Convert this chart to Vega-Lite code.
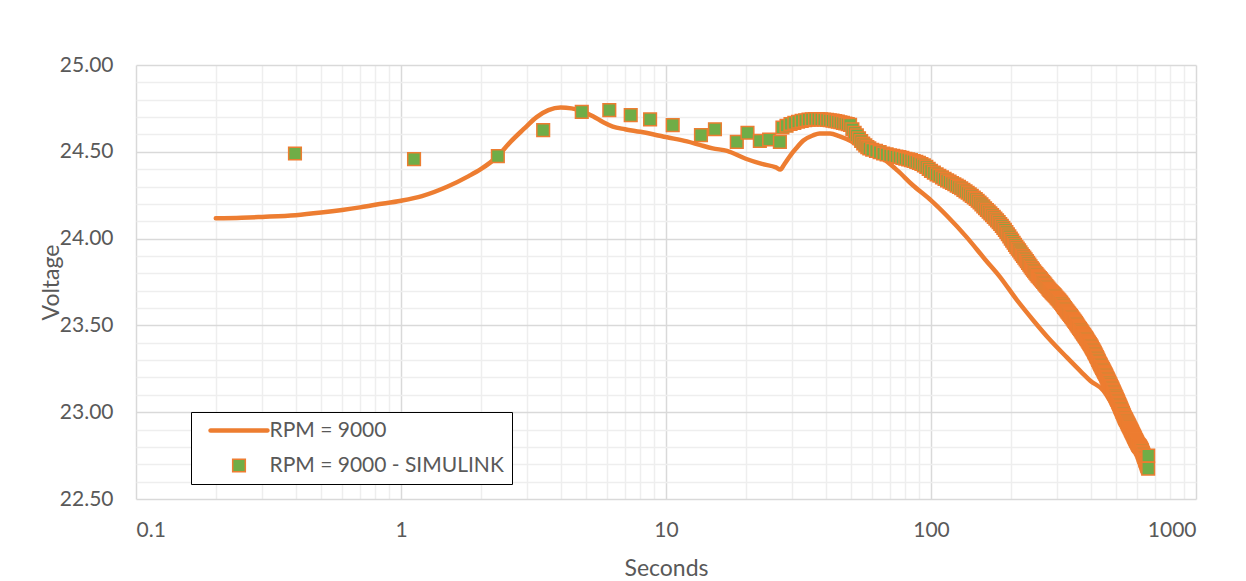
{
  "$schema": "https://vega.github.io/schema/vega-lite/v6.json",
  "width": 1060,
  "height": 434,
  "autosize": "none",
  "padding": {"left": 136, "top": 65, "right": 50, "bottom": 82},
  "background": "white",
  "config": {
    "font": "Lato",
    "view": {"stroke": null},
    "axis": {"domain": false, "ticks": false, "labelColor": "#595959", "titleColor": "#595959", "labelFontSize": 21, "titleFontSize": 23, "titleFontWeight": "normal", "labelFont": "Lato", "titleFont": "Lato"},
    "legend": {"labelFont": "Lato"}
  },
  "datasets": {
    "rpm": [
      {"t":0.2,"v":24.117},{"t":0.25,"v":24.12},{"t":0.3,"v":24.125},{"t":0.4,"v":24.135},{"t":0.5,"v":24.15},{"t":0.6,"v":24.165},{"t":0.7,"v":24.18},{"t":0.8,"v":24.195},{"t":1.0,"v":24.218},{"t":1.2,"v":24.245},{"t":1.5,"v":24.3},{"t":1.8,"v":24.36},{"t":2.0,"v":24.4},{"t":2.3,"v":24.47},{"t":2.6,"v":24.56},{"t":2.9,"v":24.63},{"t":3.25,"v":24.7},{"t":3.6,"v":24.74},{"t":4.0,"v":24.755},{"t":4.4,"v":24.75},{"t":4.8,"v":24.735},{"t":5.3,"v":24.705},{"t":5.8,"v":24.67},{"t":6.3,"v":24.645},{"t":7.0,"v":24.63},{"t":8.0,"v":24.615},{"t":9.0,"v":24.6},{"t":10.0,"v":24.585},{"t":12,"v":24.56},{"t":13.4,"v":24.54},{"t":15,"v":24.52},{"t":17,"v":24.505},{"t":20,"v":24.46},{"t":23,"v":24.43},{"t":26,"v":24.41},{"t":27,"v":24.398},{"t":28,"v":24.43},{"t":29.5,"v":24.48},{"t":31,"v":24.52},{"t":33,"v":24.565},{"t":35.9,"v":24.595},{"t":38,"v":24.606},{"t":41.6,"v":24.605},{"t":45,"v":24.59},{"t":50,"v":24.56},{"t":55,"v":24.52},{"t":60,"v":24.49},{"t":66,"v":24.46},{"t":75,"v":24.39},{"t":85,"v":24.31},{"t":100,"v":24.22},{"t":115,"v":24.13},{"t":136,"v":24.01},{"t":160,"v":23.88},{"t":182,"v":23.78},{"t":210,"v":23.65},{"t":243,"v":23.53},{"t":280,"v":23.42},{"t":325,"v":23.317},{"t":370,"v":23.23},{"t":400,"v":23.18},{"t":447,"v":23.125},{"t":480,"v":23.05},{"t":516,"v":22.95},{"t":550,"v":22.88},{"t":580,"v":22.81},{"t":615,"v":22.75},{"t":640,"v":22.7},{"t":660,"v":22.67}
    ],
    "sim": [
      {"t":0.398,"v":24.49},{"t":1.12,"v":24.458},{"t":2.32,"v":24.475},{"t":3.44,"v":24.625},{"t":4.81,"v":24.73},{"t":6.11,"v":24.74},{"t":7.36,"v":24.711},{"t":8.71,"v":24.687},{"t":10.6,"v":24.654},{"t":13.55,"v":24.596},{"t":15.3,"v":24.63},{"t":18.5,"v":24.557},{"t":20.3,"v":24.61},{"t":22.6,"v":24.563},{"t":24.5,"v":24.571},{"t":26.9,"v":24.557},
      {"t":27.5,"v":24.64},{"t":28.5,"v":24.65},{"t":29.5,"v":24.66},{"t":30.5,"v":24.667},{"t":31.5,"v":24.673},{"t":32.5,"v":24.678},{"t":33.5,"v":24.682},{"t":34.5,"v":24.685},{"t":35.5,"v":24.687},{"t":36.5,"v":24.688},{"t":37.5,"v":24.688},{"t":38.5,"v":24.687},{"t":39.5,"v":24.686},{"t":40.5,"v":24.684},{"t":41.5,"v":24.682},{"t":42.5,"v":24.68},{"t":43.5,"v":24.677},{"t":44.5,"v":24.674},{"t":45.5,"v":24.67},{"t":46.5,"v":24.667},{"t":47.5,"v":24.663},{"t":48.5,"v":24.659},{"t":49.5,"v":24.655},
      {"t":50.5,"v":24.63},{"t":51.5,"v":24.61},{"t":52.5,"v":24.595},{"t":53.5,"v":24.578},{"t":54.5,"v":24.562},{"t":55.5,"v":24.548},{"t":56.5,"v":24.537},{"t":57.5,"v":24.527},{"t":58.5,"v":24.52},{"t":60,"v":24.512},{"t":62,"v":24.505},{"t":64,"v":24.498},{"t":66,"v":24.49},{"t":68,"v":24.485},{"t":70,"v":24.48},{"t":72,"v":24.477},{"t":74,"v":24.473},{"t":76,"v":24.47},{"t":78,"v":24.465},{"t":80,"v":24.46},{"t":82,"v":24.456},{"t":84,"v":24.452},{"t":86,"v":24.447},{"t":88,"v":24.442},{"t":90,"v":24.436},{"t":92,"v":24.43},{"t":94,"v":24.422},{"t":96,"v":24.413},{"t":98,"v":24.402},
      {"t":100,"v":24.39},{"t":102.5,"v":24.38},{"t":105,"v":24.37},{"t":107.5,"v":24.362},{"t":110,"v":24.353},{"t":112.5,"v":24.344},{"t":115,"v":24.335},{"t":117.5,"v":24.328},{"t":120,"v":24.32},{"t":122.5,"v":24.313},{"t":125,"v":24.305},{"t":127.5,"v":24.298},{"t":130,"v":24.29},{"t":132.5,"v":24.281},{"t":135,"v":24.272},{"t":137.5,"v":24.264},{"t":140,"v":24.255},{"t":142.5,"v":24.246},{"t":145,"v":24.237},{"t":147.5,"v":24.228},{"t":150,"v":24.218},{"t":152.5,"v":24.208},{"t":155,"v":24.197},{"t":157.5,"v":24.186},{"t":160,"v":24.175},{"t":162.5,"v":24.165},{"t":165,"v":24.155},{"t":167.5,"v":24.145},{"t":170,"v":24.135},{"t":172.5,"v":24.125},{"t":175,"v":24.115},{"t":177.5,"v":24.105},{"t":180,"v":24.095},{"t":182.5,"v":24.084},{"t":185,"v":24.073},{"t":187.5,"v":24.062},{"t":190,"v":24.05},{"t":192.5,"v":24.038},{"t":195,"v":24.025},{"t":197.5,"v":24.013},{"t":200,"v":24.0},{"t":202.5,"v":23.988},{"t":205,"v":23.976},{"t":207.5,"v":23.964},{"t":210,"v":23.952},{"t":212.5,"v":23.942},{"t":215,"v":23.932},{"t":217.5,"v":23.921},{"t":220,"v":23.91},{"t":222.5,"v":23.9},{"t":225,"v":23.89},{"t":227.5,"v":23.88},{"t":230,"v":23.87},{"t":232.5,"v":23.86},{"t":235,"v":23.85},{"t":237.5,"v":23.84},{"t":240,"v":23.83},{"t":242.5,"v":23.821},{"t":245,"v":23.812},{"t":247.5,"v":23.803},{"t":250,"v":23.795},{"t":252.5,"v":23.787},{"t":255,"v":23.78},{"t":257.5,"v":23.772},{"t":260,"v":23.765},{"t":262.5,"v":23.757},{"t":265,"v":23.75},{"t":267.5,"v":23.742},{"t":270,"v":23.735},{"t":272.5,"v":23.727},{"t":275,"v":23.72},{"t":277.5,"v":23.712},{"t":280,"v":23.705},{"t":282.5,"v":23.698},{"t":285,"v":23.692},{"t":287.5,"v":23.686},{"t":290,"v":23.68},{"t":292.5,"v":23.674},{"t":295,"v":23.668},{"t":297.5,"v":23.661},{"t":300,"v":23.655},{"t":302.5,"v":23.649},{"t":305,"v":23.643},{"t":307.5,"v":23.636},{"t":310,"v":23.63},{"t":312.5,"v":23.622},{"t":315,"v":23.615},{"t":317.5,"v":23.607},{"t":320,"v":23.6},{"t":322.5,"v":23.593},{"t":325,"v":23.586},{"t":327.5,"v":23.579},{"t":330,"v":23.573},{"t":332.5,"v":23.566},{"t":335,"v":23.56},{"t":337.5,"v":23.553},{"t":340,"v":23.547},{"t":342.5,"v":23.54},{"t":345,"v":23.533},{"t":347.5,"v":23.526},{"t":350,"v":23.52},{"t":352.5,"v":23.513},{"t":355,"v":23.506},{"t":357.5,"v":23.499},{"t":360,"v":23.492},{"t":362.5,"v":23.485},{"t":365,"v":23.479},{"t":367.5,"v":23.472},{"t":370,"v":23.466},{"t":372.5,"v":23.459},{"t":375,"v":23.452},{"t":377.5,"v":23.446},{"t":380,"v":23.44},{"t":382.5,"v":23.433},{"t":385,"v":23.427},{"t":387.5,"v":23.42},{"t":390,"v":23.413},{"t":392.5,"v":23.406},{"t":395,"v":23.4},{"t":397.5,"v":23.393},{"t":400,"v":23.386},{"t":402.5,"v":23.379},{"t":405,"v":23.372},{"t":407.5,"v":23.364},{"t":410,"v":23.357},{"t":412.5,"v":23.349},{"t":415,"v":23.342},{"t":417.5,"v":23.334},{"t":420,"v":23.326},{"t":422.5,"v":23.318},{"t":425,"v":23.31},{"t":427.5,"v":23.301},{"t":430,"v":23.293},{"t":432.5,"v":23.285},{"t":435,"v":23.277},{"t":437.5,"v":23.27},{"t":440,"v":23.262},{"t":442.5,"v":23.255},{"t":445,"v":23.248},{"t":447.5,"v":23.241},{"t":450,"v":23.234},{"t":452.5,"v":23.227},{"t":455,"v":23.22},{"t":457.5,"v":23.212},{"t":460,"v":23.205},{"t":462.5,"v":23.197},{"t":465,"v":23.19},{"t":467.5,"v":23.182},{"t":470,"v":23.175},{"t":472.5,"v":23.167},{"t":475,"v":23.16},{"t":477.5,"v":23.152},{"t":480,"v":23.145},{"t":482.5,"v":23.137},{"t":485,"v":23.13},{"t":487.5,"v":23.122},{"t":490,"v":23.115},{"t":492.5,"v":23.107},{"t":495,"v":23.1},{"t":497.5,"v":23.092},{"t":500,"v":23.085},{"t":502.5,"v":23.077},{"t":505,"v":23.07},{"t":507.5,"v":23.062},{"t":510,"v":23.055},{"t":512.5,"v":23.047},{"t":515,"v":23.04},{"t":517.5,"v":23.032},{"t":520,"v":23.025},{"t":522.5,"v":23.017},{"t":525,"v":23.01},{"t":527.5,"v":23.002},{"t":530,"v":22.995},{"t":532.5,"v":22.987},{"t":535,"v":22.98},{"t":537.5,"v":22.972},{"t":540,"v":22.965},{"t":542.5,"v":22.96},{"t":545,"v":22.955},{"t":547.5,"v":22.948},{"t":550,"v":22.942},{"t":552.5,"v":22.936},{"t":555,"v":22.93},{"t":557.5,"v":22.924},{"t":560,"v":22.918},{"t":562.5,"v":22.912},{"t":565,"v":22.906},{"t":567.5,"v":22.9},{"t":570,"v":22.894},{"t":572.5,"v":22.888},{"t":575,"v":22.882},{"t":577.5,"v":22.876},{"t":580,"v":22.87},{"t":582.5,"v":22.864},{"t":585,"v":22.858},{"t":587.5,"v":22.852},{"t":590,"v":22.846},{"t":592.5,"v":22.84},{"t":595,"v":22.835},{"t":597.5,"v":22.83},{"t":600,"v":22.824},{"t":602.5,"v":22.818},{"t":605,"v":22.813},{"t":607.5,"v":22.81},{"t":610,"v":22.806},{"t":612.5,"v":22.803},{"t":615,"v":22.8},{"t":617.5,"v":22.795},{"t":620,"v":22.79},{"t":622.5,"v":22.785},{"t":625,"v":22.78},{"t":627.5,"v":22.772},{"t":630,"v":22.765},{"t":632.5,"v":22.757},{"t":635,"v":22.75},{"t":637.5,"v":22.742},{"t":640,"v":22.735},{"t":642.5,"v":22.727},{"t":645,"v":22.72},{"t":647.5,"v":22.712},{"t":650,"v":22.705},{"t":652.5,"v":22.697},{"t":655,"v":22.69},{"t":657.5,"v":22.683},{"t":660,"v":22.75},{"t":660,"v":22.675}
    ]
  },
  "layer": [
    {
      "data": {"name": "rpm"},
      "mark": {"type": "line", "color": "#ED7D31", "strokeWidth": 4.5, "strokeCap": "round", "strokeJoin": "round", "interpolate": "monotone"},
      "encoding": {
        "x": {"field": "t", "type": "quantitative", "scale": {"type": "log", "domain": [0.1, 1000]},
              "axis": {"orient": "top", "title": null, "labels": false, "grid": true, "gridColor": "#eeeeee", "gridWidth": 1.5,
                       "values": [0.2,0.3,0.4,0.5,0.6,0.7,0.8,0.9,2,3,4,5,6,7,8,9,20,30,40,50,60,70,80,90,200,300,400,500,600,700,800,900]}},
        "y": {"field": "v", "type": "quantitative", "scale": {"domain": [22.5, 25], "nice": false, "zero": false},
              "axis": {"orient": "right", "title": null, "labels": false, "grid": true, "gridColor": "#eeeeee", "gridWidth": 1.5,
                       "values": [22.6,22.7,22.8,22.9,23.1,23.2,23.3,23.4,23.6,23.7,23.8,23.9,24.1,24.2,24.3,24.4,24.6,24.7,24.8,24.9]}}
      }
    },
    {
      "data": {"name": "sim"},
      "mark": {"type": "point", "filled": true, "size": 160, "stroke": "#ED7D31", "strokeWidth": 1.5, "opacity": 1},
      "encoding": {
        "x": {"field": "t", "type": "quantitative", "scale": {"type": "log", "domain": [0.1, 1000]},
              "axis": {"orient": "bottom", "title": "Seconds", "grid": true, "gridColor": "#d9d9d9", "gridWidth": 1.5,
                       "values": [0.1, 1, 10, 100, 1000], "format": "~g", "labelPadding": 20, "titlePadding": 17}},
        "y": {"field": "v", "type": "quantitative", "scale": {"domain": [22.5, 25], "nice": false, "zero": false},
              "axis": {"orient": "left", "title": "Voltage", "grid": true, "gridColor": "#d9d9d9", "gridWidth": 1.5,
                       "values": [22.5, 23, 23.5, 24, 24.5, 25], "format": ".2f", "labelPadding": 23, "titlePadding": -4}},
        "shape": {"datum": "RPM = 9000 - SIMULINK", "type": "nominal",
                  "scale": {"domain": ["RPM = 9000", "RPM = 9000 - SIMULINK"], "range": ["M-4.5,-0.24H4.5A0.24,0.24 0 0 1 4.5,0.24H-4.5A0.24,0.24 0 0 1 -4.5,-0.24Z", "square"]},
                  "legend": {"title": null, "orient": "none", "legendX": 55, "legendY": 347, "padding": 8, "strokeColor": "black", "fillColor": "white",
                             "symbolSize": 160, "symbolOffset": 29.5, "labelOffset": 20, "labelFontSize": 21, "labelColor": "#595959", "labelLimit": 400, "rowPadding": 13}},
        "fill": {"datum": "RPM = 9000 - SIMULINK", "type": "nominal",
                 "scale": {"domain": ["RPM = 9000", "RPM = 9000 - SIMULINK"], "range": ["#ED7D31", "#70AD47"]},
                 "legend": {"title": null, "orient": "none", "legendX": 55, "legendY": 347, "padding": 8, "strokeColor": "black", "fillColor": "white",
                            "symbolSize": 160, "symbolOffset": 29.5, "labelOffset": 20, "labelFontSize": 21, "labelColor": "#595959", "labelLimit": 400, "rowPadding": 13}}
      }
    }
  ],
  "resolve": {"axis": {"x": "independent", "y": "independent"}}
}
